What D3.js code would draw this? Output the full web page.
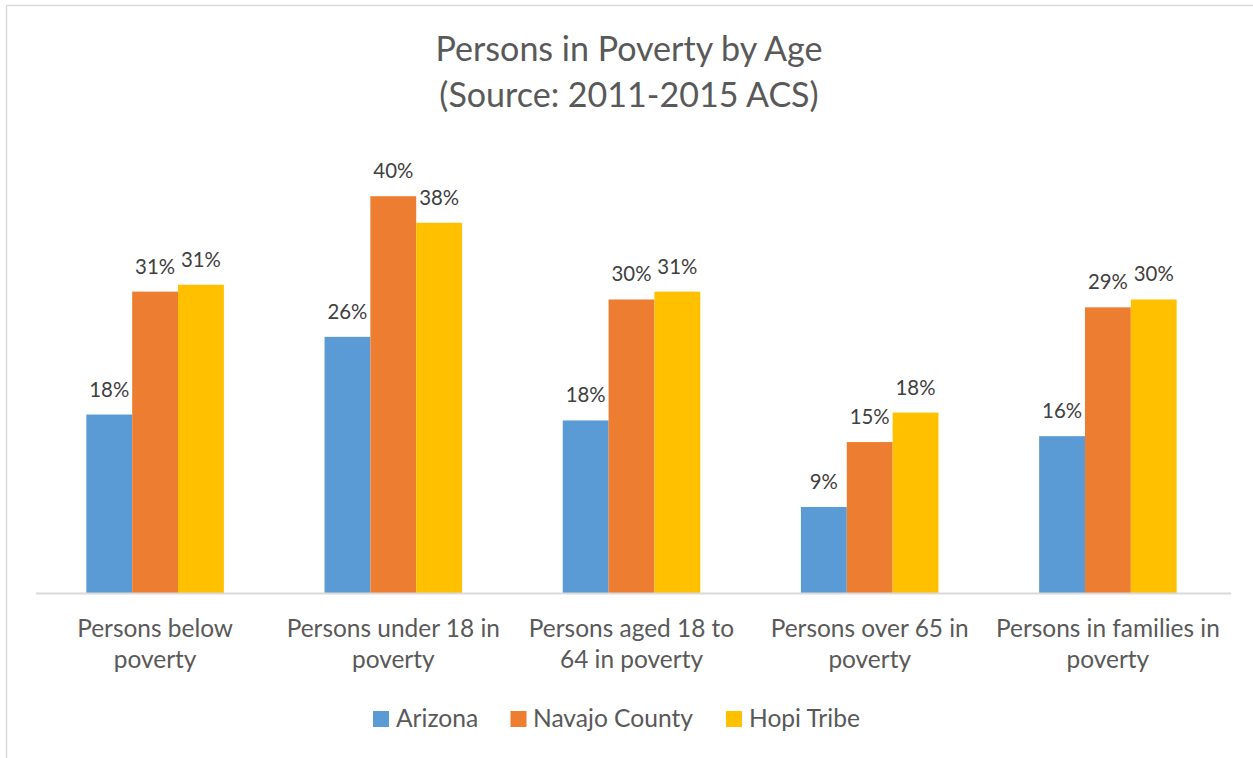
<!DOCTYPE html>
<html>
<head>
<meta charset="utf-8">
<script src="https://cdn.jsdelivr.net/npm/d3@7"></script>
<style>
  html, body { margin: 0; padding: 0; background: #fff; }
  svg { display: block; }
  text { font-family: Lato, "Open Sans", sans-serif; }
</style>
</head>
<body>
<svg id="chart" width="1253" height="758"></svg>
<script>
// ---- data ----
const categories = [
  "Persons below poverty",
  "Persons under 18 in poverty",
  "Persons aged 18 to 64 in poverty",
  "Persons over 65 in poverty",
  "Persons in families in poverty"
];
const categoryLines = [
  ["Persons below", "poverty"],
  ["Persons under 18 in", "poverty"],
  ["Persons aged 18 to", "64 in poverty"],
  ["Persons over 65 in", "poverty"],
  ["Persons in families in", "poverty"]
];
const seriesNames = ["Arizona", "Navajo County", "Hopi Tribe"];
const arizona = [18.2, 26.1, 17.6, 8.8, 16.0];
const navajo  = [30.7, 40.4, 29.9, 15.4, 29.1];
const hopi    = [31.4, 37.7, 30.7, 18.4, 29.9];
const seriesValues = [arizona, navajo, hopi];
const colors = ["#5B9BD5", "#ED7D31", "#FFC000"];
const titleLines = ["Persons in Poverty by Age", "(Source: 2011-2015 ACS)"];

// ---- layout ----
const svg = d3.select("#chart");
const W = 1253, H = 758;
const plotLeft = 36, plotRight = 1227, axisRight = 1231, baseY = 593.5, topY = 151;

// fit a font size so that a reference string has a given width
function fitSize(sample, target, base) {
  const t = svg.append("text").attr("font-size", base).text(sample);
  const w = t.node().getComputedTextLength();
  t.remove();
  return base * target / w;
}
const titleSize = fitSize(titleLines[0], 387, 30);
const catSize = fitSize("Persons below", 156, 24);
const labelSize = fitSize("40%", 40, 22);
const legendSize = fitSize("Navajo County", 160, 24);

// border
svg.append("rect")
  .attr("x", 6.5).attr("y", 5.5)
  .attr("width", W + 10).attr("height", H + 10)
  .attr("fill", "none").attr("stroke", "#D9D9D9").attr("stroke-width", 1.5);

const x0 = d3.scaleBand().domain(categories).range([plotLeft, plotRight]).paddingInner(0.4226).paddingOuter(0.2113);
const x1 = d3.scaleBand().domain(seriesNames).range([0, x0.bandwidth()]);
const y = d3.scaleLinear().domain([0, 45]).range([baseY, topY]);

// title
svg.append("g").selectAll("text").data(titleLines).join("text")
  .attr("x", 629).attr("y", (d, i) => 61 + i * 46)
  .attr("text-anchor", "middle")
  .attr("font-size", titleSize)
  .attr("fill", "#595959")
  .text(d => d);

// bars
const rows = categories.map((c, i) => seriesNames.map((s, j) => ({ cat: c, s, v: seriesValues[j][i], j })));
const g = svg.append("g").selectAll("g").data(rows).join("g")
  .attr("transform", (d, i) => `translate(${x0(categories[i])},0)`);
g.selectAll("rect").data(d => d).join("rect")
  .attr("x", d => x1(d.s))
  .attr("y", d => y(d.v))
  .attr("width", x1.bandwidth())
  .attr("height", d => baseY - y(d.v))
  .attr("fill", d => colors[d.j]);
g.selectAll("text").data(d => d).join("text")
  .attr("x", d => x1(d.s) + x1.bandwidth() / 2)
  .attr("y", d => y(d.v) - 18)
  .attr("text-anchor", "middle")
  .attr("font-size", labelSize)
  .attr("fill", "#404040")
  .text(d => Math.round(d.v) + "%");

// x axis
const axis = svg.append("g").attr("transform", `translate(0,${baseY})`)
  .call(d3.axisBottom(x0).tickSize(0).tickSizeOuter(0).tickFormat(""));
axis.select(".domain").remove();
axis.append("line").attr("x1", plotLeft).attr("x2", axisRight).attr("y1", 0).attr("y2", 0)
  .attr("stroke", "#D9D9D9").attr("stroke-width", 2);
axis.selectAll(".tick").each(function (d, i) {
  const t = d3.select(this).append("text")
    .attr("text-anchor", "middle")
    .attr("fill", "#595959")
    .attr("font-size", catSize)
    .attr("y", 0);
  categoryLines[i].forEach((line, k) => {
    t.append("tspan").attr("x", 0).attr("y", 43.5 + k * 31).text(line);
  });
});

// legend
const legendItems = [
  { name: seriesNames[0], sx: 373, tx: 396 },
  { name: seriesNames[1], sx: 510.5, tx: 533 },
  { name: seriesNames[2], sx: 726, tx: 749 }
];
const lg = svg.append("g").selectAll("g").data(legendItems).join("g");
lg.append("rect").attr("x", d => d.sx).attr("y", 711).attr("width", 16).attr("height", 16)
  .attr("fill", (d, i) => colors[i]);
lg.append("text").attr("x", d => d.tx).attr("y", 726.5)
  .attr("font-size", legendSize).attr("fill", "#595959").text(d => d.name);
</script>
</body>
</html>
